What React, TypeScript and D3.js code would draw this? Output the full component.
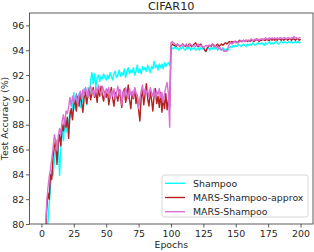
import React, { useRef, useEffect } from "react";
import * as d3 from "d3";

const width = 314;
const height = 252;
const plot = { left: 29.5, right: 313, top: 13, bottom: 224 };

// epoch index for every value below
const epochs = d3.range(1, 201);

const shampoo = [
    55.0, 68.0, 74.5, 78.2, 80.1, 81.6, 82.9, 84.3, 83.9, 85.1,
    86.0, 85.4, 86.4, 83.9, 86.2, 87.6, 86.7, 88.2, 87.4, 88.5,
    87.9, 89.1, 88.6, 89.6, 90.6, 89.2, 90.3, 89.7, 90.5, 89.4,
    90.4, 89.8, 90.9, 90.2, 89.6, 91.0, 90.4, 91.6, 92.2, 91.3,
    92.1, 91.0, 91.8, 92.0, 91.5, 91.9, 91.7, 92.1, 91.8, 91.6,
    92.0, 91.7, 92.2, 91.9, 91.6, 92.1, 92.3, 91.8, 92.0, 92.4,
    91.9, 92.2, 92.0, 92.5, 91.8, 92.3, 92.6, 92.1, 92.4, 92.2,
    92.6, 92.0, 92.3, 92.8, 92.2, 92.5, 92.1, 92.7, 92.4, 92.6,
    92.3, 92.8, 92.5, 92.2, 92.7, 92.5, 93.1, 92.6, 92.8, 92.4,
    92.9, 92.6, 92.9, 92.5, 93.0, 92.7, 92.9, 93.0, 92.8, 94.0,
    94.2, 94.1, 94.3, 94.1, 94.2, 94.0, 94.2, 94.1, 94.3, 94.1,
    94.0, 94.2, 94.1, 94.3, 94.0, 94.2, 94.1, 94.2, 94.0, 94.1,
    94.2, 94.0, 94.2, 94.1, 94.3, 94.1, 93.9, 94.1, 94.2, 94.0,
    94.2, 94.1, 94.3, 94.1, 94.2, 94.0, 94.2, 94.1, 94.0, 94.2,
    94.1, 93.9, 94.1, 94.0, 94.2, 94.3, 94.2, 94.4, 94.3, 94.4,
    94.3, 94.5, 94.4, 94.3, 94.4, 94.5, 94.4, 94.3, 94.5, 94.4,
    94.5, 94.4, 94.6, 94.5, 94.4, 94.5, 94.6, 94.5, 94.5, 94.6,
    94.5, 94.4, 94.6, 94.5, 94.6, 94.7, 94.5, 94.6, 94.5, 94.6,
    94.7, 94.6, 94.5, 94.6, 94.7, 94.6, 94.6, 94.7, 94.6, 94.6,
    94.7, 94.6, 94.7, 94.6, 94.6, 94.7, 94.6, 94.7, 94.6, 94.6,
];

const marsApprox = [
    62.0, 72.0, 78.0, 81.0, 82.5, 82.0, 84.0, 83.6, 85.4, 86.2,
    86.8, 84.8, 86.5, 87.2, 86.3, 88.0, 87.5, 88.5, 87.8, 88.6,
    86.9, 88.8, 89.3, 88.4, 89.6, 90.0, 89.1, 90.3, 89.5, 90.6,
    89.8, 89.0, 90.2, 90.7, 89.7, 90.4, 90.9, 90.0, 90.5, 91.0,
    90.2, 90.6, 89.8, 90.9, 90.3, 91.1, 90.4, 89.9, 90.7, 90.2,
    90.8, 89.6, 90.4, 91.0, 90.1, 89.5, 90.6, 90.3, 89.9, 90.8,
    90.2, 89.4, 90.5, 90.9, 89.8, 90.3, 91.2, 90.0, 89.3, 90.6,
    90.1, 90.9, 89.7, 90.4, 89.2, 88.3, 90.2, 90.8, 89.6, 90.5,
    91.3, 90.1, 89.5, 90.7, 90.0, 89.1, 90.4, 90.9, 89.7, 90.3,
    89.4, 90.6, 89.0, 90.2, 89.3, 90.5, 89.2, 90.0, 89.4, 94.3,
    94.5, 94.4, 94.4, 94.3, 94.5, 94.4, 94.3, 94.4, 94.5, 94.4,
    94.3, 94.4, 94.3, 94.5, 94.4, 94.3, 94.4, 94.5, 94.6, 94.4,
    94.3, 94.4, 94.5, 94.3, 94.2, 94.0, 93.9, 94.2, 94.3, 94.4,
    94.3, 94.5, 94.4, 94.3, 94.4, 94.5, 94.3, 94.4, 94.5, 94.4,
    94.5, 94.6, 94.5, 94.6, 94.7, 94.6, 94.7, 94.6, 94.7, 94.7,
    94.6, 94.7, 94.8, 94.7, 94.7, 94.8, 94.7, 94.8, 94.7, 94.8,
    94.7, 94.8, 94.8, 94.7, 94.8, 94.9, 94.8, 94.7, 94.8, 94.8,
    94.9, 94.8, 94.8, 94.9, 94.8, 94.8, 94.9, 94.8, 94.9, 94.8,
    94.9, 94.8, 94.9, 94.9, 94.8, 94.9, 94.8, 94.9, 94.9, 94.8,
    94.9, 94.9, 94.8, 94.9, 94.9, 94.8, 94.9, 94.9, 94.8, 94.9,
];

const marsShampoo = [
    64.0, 74.0, 79.2, 81.6, 82.9, 83.8, 84.4, 85.3, 86.1, 87.2,
    86.7, 85.9, 87.1, 87.7, 87.2, 88.3, 88.8, 88.0, 89.1, 88.9,
    89.4, 90.2, 89.5, 90.3, 89.8, 90.1, 90.5, 89.6, 90.3, 90.7,
    90.1, 90.8, 90.4, 91.0, 90.6, 90.2, 90.9, 91.1, 90.5, 90.8,
    90.3, 91.0, 90.6, 91.2, 90.7, 90.4, 91.1, 90.8, 90.2, 90.9,
    90.5, 91.0, 90.1, 90.7, 90.3, 90.9, 90.0, 90.6, 91.1, 90.4,
    90.8, 89.6, 90.7, 90.3, 91.0, 90.5, 90.1, 90.9, 90.4, 90.7,
    90.2, 91.0, 90.6, 90.3, 89.3, 90.1, 90.7, 91.2, 90.4, 90.9,
    90.5, 90.8, 90.2, 91.0, 90.6, 90.3, 90.9, 90.1, 90.7, 90.4,
    90.9, 90.2, 90.6, 89.8, 90.5, 91.0, 91.4, 90.5, 87.8, 94.6,
    94.7, 94.6, 94.5, 94.4, 94.5, 94.4, 94.3, 94.4, 94.5, 94.3,
    94.4, 94.5, 94.3, 94.4, 94.5, 94.4, 94.3, 94.4, 94.3, 94.4,
    94.5, 94.3, 94.4, 94.3, 94.2, 94.3, 94.4, 94.3, 94.4, 94.3,
    94.4, 94.5, 94.3, 94.4, 94.2, 94.3, 94.1, 94.2, 94.0, 94.1,
    93.9, 94.0, 93.9, 94.2, 94.5, 94.6, 94.5, 94.6, 94.7, 94.6,
    94.7, 94.6, 94.7, 94.8, 94.7, 94.8, 94.7, 94.8, 94.8, 94.7,
    94.8, 94.9, 94.8, 94.8, 94.9, 94.8, 94.9, 94.8, 94.9, 94.9,
    94.8, 94.9, 95.0, 94.9, 94.9, 95.0, 94.9, 95.0, 94.9, 95.0,
    94.9, 95.0, 94.9, 95.0, 95.0, 94.9, 95.0, 95.0, 94.9, 95.0,
    95.0, 94.9, 95.0, 95.0, 95.1, 95.0, 95.0, 94.9, 95.0, 95.0,
];

const seriesNames = ["Shampoo", "MARS-Shampoo-approx", "MARS-Shampoo"];
const seriesColors = ["#00ffff", "#b22222", "#da70d6"];
const xTicks = [0, 25, 50, 75, 100, 125, 150, 175, 200];
const yTicks = [80, 82, 84, 86, 88, 90, 92, 94, 96];

const font = "DejaVu Sans";
const textColor = "#262626";

const App = () => {
    const canvas = useRef<HTMLDivElement>(null);
    const svg = useRef<any>(null);

    useEffect(() => {
        if (svg.current) return;
        document.body.style.margin = "0";

        const x = d3.scaleLinear().domain([-9.2, 209.6]).range([plot.left, plot.right]);
        const y = d3.scaleLinear().domain([80, 97]).range([plot.bottom, plot.top]);

        svg.current = d3
            .select(canvas.current)
            .append("svg")
            .attr("width", width)
            .attr("height", height)
            .style("display", "block")
            .style("font-family", font);

        svg.current
            .append("rect")
            .attr("width", width)
            .attr("height", height)
            .attr("fill", "#fff");

        svg.current
            .append("defs")
            .append("clipPath")
            .attr("id", "plot-clip")
            .append("rect")
            .attr("x", plot.left)
            .attr("y", plot.top)
            .attr("width", plot.right - plot.left)
            .attr("height", plot.bottom - plot.top);

        // lines
        const line = d3
            .line<number>()
            .x((d, i) => x(epochs[i]))
            .y((d) => y(d));

        const lines = svg.current.append("g").attr("clip-path", "url(#plot-clip)");
        [shampoo, marsApprox, marsShampoo].forEach((values, i) => {
            lines
                .append("path")
                .datum(values)
                .attr("d", line)
                .attr("fill", "none")
                .attr("stroke", seriesColors[i])
                .attr("stroke-width", 1.4)
                .attr("stroke-linejoin", "round");
        });

        // axes
        const xAxis = d3.axisBottom(x).tickValues(xTicks).tickSize(3.5).tickPadding(2.4);
        svg.current
            .append("g")
            .attr("transform", `translate(0, ${plot.bottom})`)
            .call(xAxis)
            .attr("font-size", 9.4)
            .attr("font-family", font)
            .call((g) => g.select(".domain").remove())
            .call((g) => g.selectAll("line").attr("stroke", "#333").attr("stroke-width", 0.8))
            .call((g) => g.selectAll("text").attr("fill", textColor));

        const yAxis = d3.axisLeft(y).tickValues(yTicks).tickSize(3.5).tickPadding(1.8);
        svg.current
            .append("g")
            .attr("transform", `translate(${plot.left}, 0)`)
            .call(yAxis)
            .attr("font-size", 9.4)
            .attr("font-family", font)
            .call((g) => g.select(".domain").remove())
            .call((g) => g.selectAll("line").attr("stroke", "#333").attr("stroke-width", 0.8))
            .call((g) => g.selectAll("text").attr("fill", textColor));

        // frame
        svg.current
            .append("rect")
            .attr("x", plot.left)
            .attr("y", plot.top)
            .attr("width", plot.right - plot.left)
            .attr("height", plot.bottom - plot.top)
            .attr("fill", "none")
            .attr("stroke", "#333")
            .attr("stroke-width", 0.8);

        // labels
        svg.current
            .append("text")
            .attr("x", (plot.left + plot.right) / 2)
            .attr("y", 9.5)
            .attr("text-anchor", "middle")
            .attr("font-size", 11.3)
            .attr("fill", textColor)
            .text("CIFAR10");

        svg.current
            .append("text")
            .attr("x", (plot.left + plot.right) / 2)
            .attr("y", 248.4)
            .attr("text-anchor", "middle")
            .attr("font-size", 9.4)
            .attr("fill", textColor)
            .text("Epochs");

        svg.current
            .append("text")
            .attr("transform", `translate(7.5, ${(plot.top + plot.bottom) / 2}) rotate(-90)`)
            .attr("text-anchor", "middle")
            .attr("font-size", 9.4)
            .attr("fill", textColor)
            .text("Test Accuracy (%)");

        // legend
        const legend = svg.current.append("g").attr("transform", "translate(162, 175)");
        legend
            .append("rect")
            .attr("width", 146)
            .attr("height", 42)
            .attr("rx", 2.5)
            .attr("fill", "#fff")
            .attr("fill-opacity", 0.8)
            .attr("stroke", "#ccc")
            .attr("stroke-width", 0.8);

        seriesNames.forEach((name, i) => {
            const row = legend.append("g").attr("transform", `translate(0, ${8.3 + i * 14.2})`);
            row.append("line")
                .attr("x1", 3)
                .attr("x2", 23)
                .attr("stroke", seriesColors[i])
                .attr("stroke-width", 1.4);
            row.append("text")
                .attr("x", 31)
                .attr("y", 3.4)
                .attr("font-size", 9.4)
                .attr("fill", textColor)
                .text(name);
        });
    });

    return <div ref={canvas}></div>;
};

export default App;
